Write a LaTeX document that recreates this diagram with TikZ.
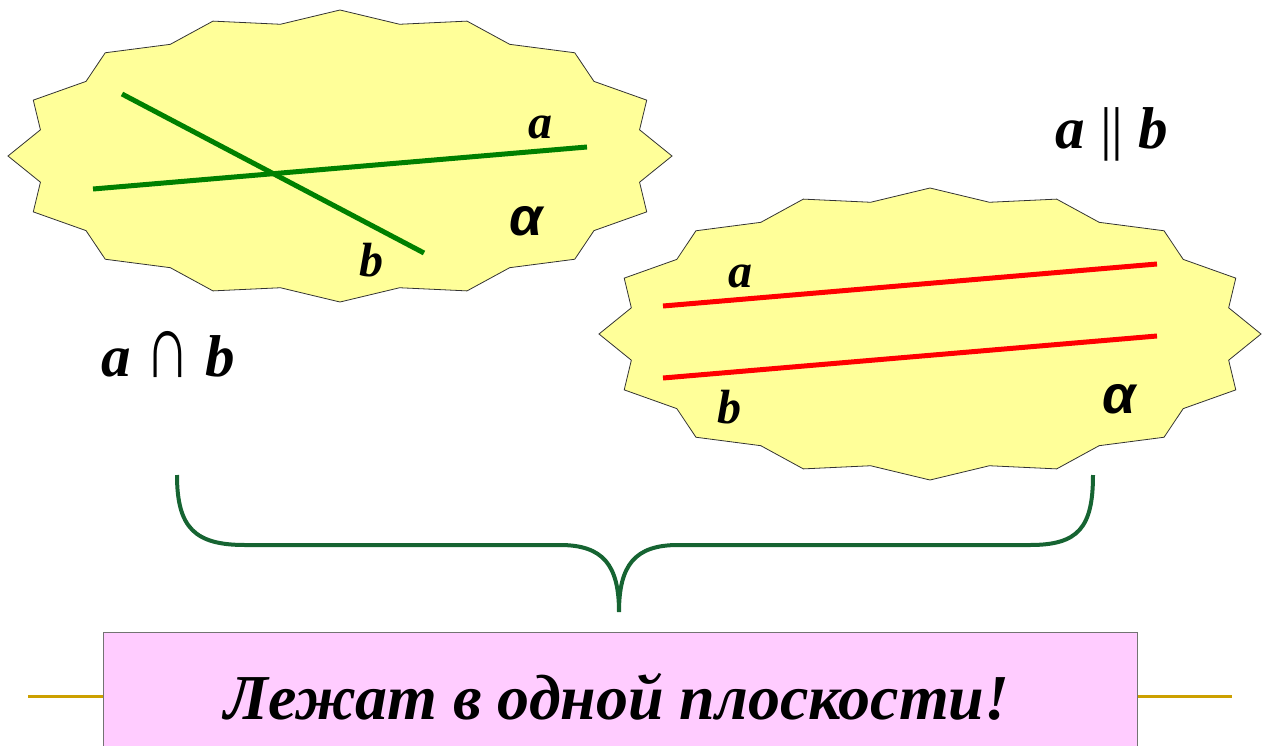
\documentclass[tikz,border=0pt]{standalone}
\usepackage{fontspec}
\usepackage{graphicx}
\setmainfont{Liberation Serif}
\newfontfamily\alphafont{Liberation Sans}
\definecolor{starfill}{RGB}{255,255,153}
\definecolor{greenline}{RGB}{0,128,0}
\definecolor{redline}{RGB}{255,0,0}
\definecolor{bracegreen}{RGB}{22,100,50}
\definecolor{boxpink}{RGB}{255,204,255}
\definecolor{goldline}{RGB}{204,160,0}
\tikzset{
  starshape/.style={fill=starfill, draw=black!80, line width=0.8pt, line join=miter},
  gline/.style={draw=greenline, line width=5pt},
  rline/.style={draw=redline, line width=5pt},
  inlabel/.style={inner sep=0pt, font=\fontsize{48}{52}\selectfont\bfseries\itshape},
  alphalabel/.style={inner sep=0pt, font=\fontsize{54}{58}\selectfont\alphafont\bfseries\itshape},
  relabel/.style={inner sep=0pt, font=\fontsize{59}{64}\selectfont},
}
\begin{document}
\begin{tikzpicture}[x=1pt,y=-1pt]
\useasboundingbox (0,0) rectangle (1270,745);
% left starburst
\draw[starshape] plot[samples at={0,...,31}, variable=\t]
  ({340+332*(0.96+0.04*cos(\t*180))*sin(\t*11.25)},{156-146*(0.96+0.04*cos(\t*180))*cos(\t*11.25)}) -- cycle;
% right starburst
\draw[starshape] plot[samples at={0,...,31}, variable=\t]
  ({930+331*(0.96+0.04*cos(\t*180))*sin(\t*11.25)},{334-146*(0.96+0.04*cos(\t*180))*cos(\t*11.25)}) -- cycle;
% left lines
\coordinate (a1s) at (93,189);
\coordinate (a1e) at (587,147);
\coordinate (b1s) at (122,94);
\coordinate (b1e) at (424,253);
\draw[gline] (b1s) -- (b1e);
\draw[gline] (a1s) -- (a1e);
\node[inlabel] (la) at (540,127) {a};
\node[inlabel] (lb) at (371,260) {b};
\node[alphalabel] (lalpha) at (526,221) {α};
% right lines
\coordinate (a2s) at (663,306);
\coordinate (a2e) at (1157,264);
\coordinate (b2s) at (663,378);
\coordinate (b2e) at (1157,336);
\draw[rline] (a2s) -- (a2e);
\draw[rline] (b2s) -- (b2e);
\node[inlabel] (ra) at (740,276) {a};
\node[inlabel] (rb) at (729,407) {b};
\node[alphalabel] (ralpha) at (1119,399) {α};
% relations
\node[relabel, anchor=base] (inter) at (168,376) {\textbf{\textit{a}} \raisebox{-1pt}{\scalebox{1.05}[1.55]{∩}} \textbf{\textit{b}}};
\node[relabel, anchor=base] (par) at (1112,148) {\textbf{\textit{a}} || \textbf{\textit{b}}};
% brace
\coordinate (brl) at (177,475);
\coordinate (brr) at (1093,475);
\coordinate (brtip) at (619,612);
\draw[draw=bracegreen, line width=4pt] (brl) .. controls (177,528) and (195,545) .. (245,545)
  -- (560,545) .. controls (603,545) and (619,565) .. (brtip)
  .. controls (619,565) and (635,545) .. (678,545)
  -- (1030,545) .. controls (1078,545) and (1093,528) .. (brr);
% bottom
\coordinate (gl) at (28,696);
\coordinate (gr) at (1232,696);
\draw[draw=goldline, line width=3pt] (gl) -- (gr);
\node[draw=black!55, line width=1pt, fill=boxpink, minimum width=1034pt, minimum height=130pt, anchor=north west, inner sep=0pt] (box) at (103,632) {};
\node[inner sep=0pt, anchor=base, font=\fontsize{64}{70}\selectfont\bfseries\itshape] (txt) at (617,719) {Лежат в одной плоскости!};
\end{tikzpicture}
\end{document}
